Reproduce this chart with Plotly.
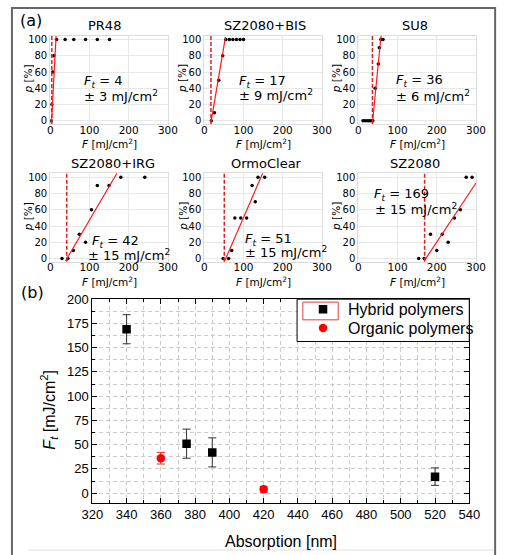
import plotly.graph_objects as go

W, H = 509, 555

# ---------------- data (a) ----------------
names = ["PR48", "SZ2080+BIS", "SU8", "SZ2080+IRG", "OrmoClear", "SZ2080"]
F_pr48 = [2.5, 4, 6.5, 9, 16, 38, 60, 90, 120, 151]
p_pr48 = [0, 20, 60, 80, 100, 100, 100, 100, 100, 100]
F_bis = [18, 26, 37, 47, 55, 64, 73, 82, 91, 100]
p_bis = [0, 10, 50, 80, 100, 100, 100, 100, 100, 100]
F_su8 = [12, 17, 22, 27, 32, 37, 43, 51, 53.5, 57.5, 63]
p_su8 = [0, 0, 0, 0, 0, 0, 40, 70, 90, 100, 100]
F_irg = [30, 45, 59, 74, 90, 105, 120, 150, 180, 241]
p_irg = [0, 0, 10, 30, 20, 60, 90, 90, 100, 100]
F_ormo = [48, 62, 70, 78, 93, 108, 122, 130, 137, 154]
p_ormo = [0, 0, 10, 50, 50, 50, 90, 70, 100, 100]
F_sz = [154, 168, 184, 200, 214, 229, 245, 260, 275, 290]
p_sz = [0, 0, 30, 10, 30, 20, 50, 60, 100, 100]

fit_x = [[3, 15], [17, 54], [36, 58], [39, 170], [52, 149], [168, 300]]
fit_y = [[-4, 105], [-2, 103], [-3, 105], [-3, 105], [-3, 105], [-3, 93]]
Ft = [4, 17, 36, 42, 51, 169]
Ft_err = [3, 9, 6, 15, 15, 15]

# ---------------- data (b) ----------------
hyb_x = [340, 375, 390, 520]
hyb_y = [169, 51, 42, 17]
hyb_err = [15, 15, 15, 9]
org_x = [360, 420]
org_y = [36, 4]
org_err = [6, 3]

xtick_a = [0, 100, 200, 300]
ytick_a = [0, 20, 40, 60, 80, 100]


def px(x):
    return x / W


def py(y):
    return 1 - y / H


fig = go.Figure()

series = [(F_pr48, p_pr48), (F_bis, p_bis), (F_su8, p_su8),
          (F_irg, p_irg), (F_ormo, p_ormo), (F_sz, p_sz)]
cols = [(41, 164), (202, 325), (363, 486)]
rows = [(29, 119), (169, 259)]
title_cx = [97.5, 265, 422, 107, 267.5, 422.5]
ytitle_x = [17.5, 179, 339]
txt_pos = [  # (x1, y1, x2, y2)
    (74, 76, 74, 90), (236, 76, 236, 89), (400, 75, 400, 90),
    (83, 238, 78, 252), (243, 236, 242, 249), (377, 191, 378, 205)]

DV = "DejaVu Sans"
LS = "Liberation Sans, Arial"

for i in range(6):
    r, c = divmod(i, 3)
    ax = "" if i == 0 else str(i + 1)
    xa, ya = "x" + ax, "y" + ax
    F, p = series[i]
    fig.add_trace(go.Scatter(x=F, y=p, mode="markers", xaxis=xa, yaxis=ya,
                             marker=dict(color="black", size=3.5), showlegend=False))
    fig.add_trace(go.Scatter(x=fit_x[i], y=fit_y[i], mode="lines", xaxis=xa, yaxis=ya,
                             line=dict(color="#ff1a1a", width=1.2), showlegend=False))
    fig.add_shape(type="line", xref=xa, yref=ya + " domain", x0=Ft[i], x1=Ft[i],
                  y0=0, y1=1, line=dict(color="#e02020", width=1.5, dash="4px,2px"))
    x0, x1 = cols[c]
    y0, y1 = rows[r]
    fig.layout["xaxis" + ax] = dict(
        domain=[px(x0), px(x1)], anchor=ya, range=[0, 300], tickvals=xtick_a,
        showgrid=True, gridcolor="#e8e8e8", gridwidth=1, zeroline=False,
        showline=True, linecolor="#dcdcdc", mirror=True, ticks="",
        ticklabelstandoff=-4,
        tickfont=dict(family=DV, size=10.5, color="black"))
    fig.layout["yaxis" + ax] = dict(
        domain=[py(y1), py(y0)], anchor=xa, range=[-4, 105], tickvals=ytick_a,
        showgrid=True, gridcolor="#e8e8e8", gridwidth=1, zeroline=False,
        showline=True, linecolor="#dcdcdc", mirror=True, ticks="",
        tickfont=dict(family=DV, size=10, color="black"))
    # titles
    fig.add_annotation(x=px(title_cx[i]), y=py(rows[r][0] - 10), xref="paper", yref="paper",
                       text=names[i], showarrow=False, xanchor="center", yanchor="middle",
                       font=dict(family=DV, size=13, color="black"))
    fig.add_annotation(x=px(ytitle_x[c]), y=py((y0 + y1) / 2 - 1), xref="paper", yref="paper",
                       text="<i>p</i> [%]", textangle=-90, showarrow=False,
                       xanchor="center", yanchor="middle",
                       font=dict(family=DV, size=10.5, color="black"))
    fig.add_annotation(x=px((x0 + x1) / 2), y=py(y1 + 20), xref="paper", yref="paper",
                       text="<i>F</i> [mJ/cm<sup>2</sup>]", showarrow=False,
                       xanchor="center", yanchor="middle",
                       font=dict(family=DV, size=10.5, color="black"))
    tx1, ty1, tx2, ty2 = txt_pos[i]
    fig.add_annotation(x=px(tx1), y=py(ty1), xref="paper", yref="paper",
                       text="<i>F</i><sub><i>t</i></sub> = %d" % Ft[i], showarrow=False,
                       xanchor="left", yanchor="middle",
                       font=dict(family=DV, size=13, color="black"))
    fig.add_annotation(x=px(tx2), y=py(ty2), xref="paper", yref="paper",
                       text="± %d mJ/cm<sup>2</sup>" % Ft_err[i], showarrow=False,
                       xanchor="left", yanchor="middle",
                       font=dict(family=DV, size=13, color="black"))

# ---------------- panel (b) ----------------
fig.add_trace(go.Scatter(x=hyb_x, y=hyb_y, mode="markers", xaxis="x7", yaxis="y7",
                         name="Hybrid polymers", legend="legend",
                         marker=dict(symbol="square", color="black", size=8.5),
                         error_y=dict(type="data", array=hyb_err, color="#333333",
                                      thickness=1, width=4)))
fig.add_trace(go.Scatter(x=org_x, y=org_y, mode="markers", xaxis="x7", yaxis="y7",
                         name="Organic polymers", legend="legend2",
                         marker=dict(symbol="circle", color="#ff0000", size=8.5),
                         error_y=dict(type="data", array=org_err, color="#e03030",
                                      thickness=1, width=4)))

grid = dict(showgrid=True, gridcolor="#cbcbcb", gridwidth=1, griddash="4px,3px")
fig.layout["xaxis7"] = dict(
    domain=[px(85), px(479)], anchor="y7", range=[320, 540], tick0=320, dtick=20,
    ticks="inside", ticklen=5, tickcolor="black", showline=True, linecolor="black",
    linewidth=1, mirror="allticks", zeroline=False,
    tickfont=dict(family=LS, size=13, color="black"),
    minor=dict(dtick=10, ticks="inside", ticklen=3, tickcolor="black", **grid), **grid)
fig.layout["yaxis7"] = dict(
    domain=[py(504), py(297)], anchor="x7", range=[-10, 200], tick0=0, dtick=25,
    ticks="inside", ticklen=5, tickcolor="black", showline=True, linecolor="black",
    linewidth=1, mirror="allticks", zeroline=False,
    tickfont=dict(family=LS, size=13, color="black"),
    minor=dict(dtick=12.5, ticks="inside", ticklen=3, tickcolor="black", **grid), **grid)

fig.add_annotation(x=px(282), y=py(543), xref="paper", yref="paper",
                   text="Absorption [nm]", showarrow=False, xanchor="center", yanchor="middle",
                   font=dict(family=LS, size=16, color="black"))
fig.add_annotation(x=px(40), y=py(409), xref="paper", yref="paper",
                   text="<i>F</i><sub><i>t</i></sub> [mJ/cm<sup>2</sup>]", textangle=-90,
                   showarrow=False, xanchor="center", yanchor="middle",
                   font=dict(family=LS, size=16, color="black"))

# panel labels
fig.add_annotation(x=px(21), y=py(14), xref="paper", yref="paper", text="(a)",
                   showarrow=False, xanchor="center", yanchor="middle",
                   font=dict(family=DV, size=16, color="black"))
fig.add_annotation(x=px(22), y=py(290), xref="paper", yref="paper", text="(b)",
                   showarrow=False, xanchor="center", yanchor="middle",
                   font=dict(family=DV, size=16, color="black"))

# legend box + red frame around first symbol
fig.add_shape(type="rect", xref="paper", yref="paper", x0=px(299), x1=px(479),
              y0=py(340), y1=py(297), fillcolor="white",
              line=dict(color="black", width=1), layer="above")
fig.add_shape(type="rect", xref="paper", yref="paper", x0=px(305), x1=px(342),
              y0=py(318), y1=py(300), line=dict(color="#e04040", width=1), layer="above")

# outer frame
fig.add_shape(type="rect", xref="paper", yref="paper", x0=px(1), x1=px(506),
              y0=-0.02, y1=py(1), line=dict(color="#666666", width=2), layer="above")
fig.add_shape(type="line", xref="paper", yref="paper", x0=px(18), x1=px(505),
              y0=py(552), y1=py(552), line=dict(color="#e0e0e0", width=1), layer="above")

leg = dict(xanchor="left", yanchor="top", bgcolor="rgba(0,0,0,0)", borderwidth=0,
           itemwidth=40, font=dict(family=LS, size=16, color="black"))
fig.update_layout(
    width=W, height=H, margin=dict(l=0, r=0, t=0, b=0),
    paper_bgcolor="white", plot_bgcolor="white",
    legend=dict(x=px(300), y=py(290), **leg),
    legend2=dict(x=px(300), y=py(309), **leg),
)

fig.write_html("out.html")
